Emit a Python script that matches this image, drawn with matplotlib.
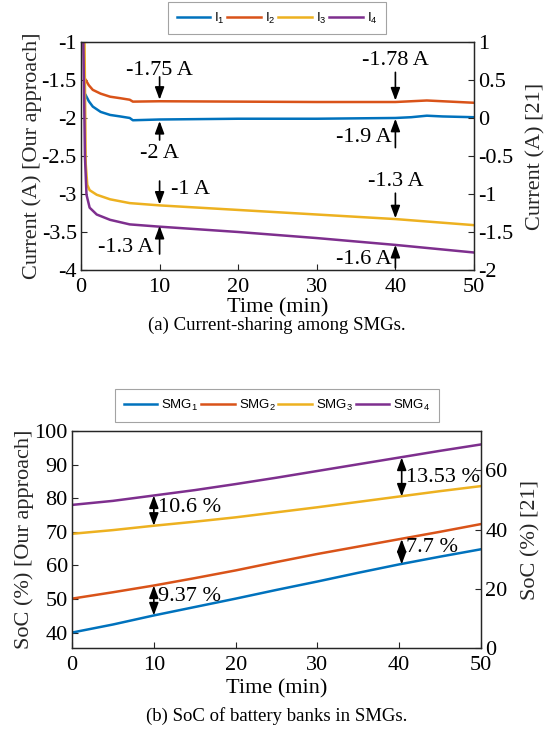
import numpy as np
import matplotlib
matplotlib.use("Agg")
import matplotlib.pyplot as plt

plt.rcParams['font.family'] = ['Liberation Serif', 'DejaVu Serif']
plt.rcParams['axes.unicode_minus'] = False
plt.rcParams['mathtext.fontset'] = 'custom'
plt.rcParams['mathtext.rm'] = 'Liberation Sans'

# colours (MATLAB default order)
C1, C2, C3, C4 = '#0072BD', '#D95319', '#EDB120', '#7E2F8E'
GRAY = '#262626'

# ---- (a) current sharing ----
t_i12 = [0.6, 1, 1.5, 2.5, 3.7, 5, 6.2, 6.6, 10, 20, 30, 40, 42, 44, 46, 50]
i1 = [-1.70, -1.78, -1.85, -1.92, -1.96, -1.98, -2.00, -2.03, -2.02, -2.01, -2.01, -2.00, -1.99, -1.97, -1.98, -1.99]
i2 = [-1.50, -1.57, -1.63, -1.68, -1.72, -1.74, -1.76, -1.785, -1.78, -1.785, -1.79, -1.79, -1.78, -1.77, -1.78, -1.80]
t_i3 = [0.45, 0.6, 0.8, 1.1, 2, 3.7, 6.2, 10, 20, 30, 40, 50]
i3 = [-1.0, -2.6, -2.88, -2.95, -3.01, -3.07, -3.12, -3.15, -3.21, -3.27, -3.33, -3.41]
t_i4 = [0.3, 0.5, 0.7, 1.1, 2, 3.7, 6.2, 10, 20, 30, 40, 50]
i4 = [-1.0, -2.5, -3.01, -3.18, -3.27, -3.34, -3.40, -3.43, -3.50, -3.58, -3.67, -3.77]
cur_labels = ['I$_\\mathregular{1}$', 'I$_\\mathregular{2}$', 'I$_\\mathregular{3}$', 'I$_\\mathregular{4}$']
left_ticks_a = [-4, -3.5, -3, -2.5, -2, -1.5, -1]
right_ticks_a = [-2, -1.5, -1, -0.5, 0, 0.5, 1]

# ---- (b) state of charge ----
t_soc = [0, 5, 10, 15, 20, 25, 30, 35, 40, 45, 50]
soc1 = [40, 42.4, 45.1, 47.6, 50.1, 52.7, 55.2, 57.8, 60.3, 62.6, 64.8]
soc2 = [50.1, 52, 54, 56.2, 58.5, 61, 63.4, 65.6, 67.8, 70, 72.3]
soc3 = [69.4, 70.5, 71.8, 73, 74.3, 75.8, 77.3, 78.9, 80.5, 82.1, 83.6]
soc4 = [78, 79.2, 80.8, 82.4, 84.2, 86.1, 88.1, 90.1, 92.1, 94.1, 96.0]
soc_labels = ['SMG$_\\mathregular{1}$', 'SMG$_\\mathregular{2}$', 'SMG$_\\mathregular{3}$', 'SMG$_\\mathregular{4}$']
left_ticks_b = [40, 50, 60, 70, 80, 90, 100]
right_ticks_b = [0, 20, 40, 60]
x_ticks = [0, 10, 20, 30, 40, 50]

FS = 16


def fmt(v):
    return f"{v:g}"


def style(ax):
    for s in ax.spines.values():
        s.set_color(GRAY)
        s.set_linewidth(0.9)
    ax.tick_params(direction='in', length=4, width=0.8, colors=GRAY,
                   labelsize=FS, labelcolor='black', pad=3)
    ax.tick_params(axis='x', pad=6)


def legend(handles, yc):
    leg = fig.legend(handles=handles, loc='center', bbox_to_anchor=(0.5, yc),
                     ncol=4, frameon=True, fancybox=False, edgecolor='#8c8c8c',
                     prop={'family': 'Liberation Sans', 'size': 9.5},
                     handlelength=2.55, handletextpad=0.3, columnspacing=0.2,
                     borderpad=0.65)
    leg.get_frame().set_linewidth(0.8)
    return leg


fig = plt.figure(figsize=(5.54, 7.44), dpi=100)

# ================= panel (a) =================
ax1 = fig.add_axes([0.1462, 0.6371, 0.7094, 0.3065])
lines = []
for t, y, c, lab in zip([t_i12, t_i12, t_i3, t_i4], [i1, i2, i3, i4],
                        [C1, C2, C3, C4], cur_labels):
    ln, = ax1.plot(t, y, color=c, lw=1.8, label=lab)
    lines.append(ln)
ax1.set_xlim(0, 50)
ax1.set_ylim(-4, -1)
ax1.set_xticks(x_ticks)
ax1.set_yticks(left_ticks_a)
ax1.set_yticklabels([fmt(v) for v in left_ticks_a])
ax1.set_xlabel('Time (min)', fontsize=FS, labelpad=1)
ax1.set_ylabel('Current (A) [Our approach]', fontsize=FS, color=GRAY, labelpad=0)
style(ax1)

ax1r = ax1.twinx()
ax1r.set_ylim(-2, 1)
ax1r.set_yticks(right_ticks_a)
ax1r.set_yticklabels([fmt(v) for v in right_ticks_a])
ax1r.set_ylabel('Current (A) [21]', fontsize=FS, color=GRAY, labelpad=9)
style(ax1r)

arr = dict(arrowstyle='-|>,head_length=0.75,head_width=0.28', color='black',
           lw=1.2, shrinkA=0, shrinkB=0, mutation_scale=10)
# (text, text x, text y, ha, arrow tail y, arrow head y, arrow x)
ann_a = [
    ('-1.75 A', 10, -1.38, 'center', -1.46, -1.76, 10),
    ('-2 A', 10, -2.47, 'center', -2.29, -2.04, 10),
    ('-1.78 A', 40, -1.24, 'center', -1.40, -1.77, 40),
    ('-1.9 A', 39.5, -2.26, 'right', -2.39, -2.01, 40),
    ('-1 A', 11.5, -2.94, 'left', -2.83, -3.14, 10),
    ('-1.3 A', 40, -2.84, 'center', -2.99, -3.32, 40),
    ('-1.3 A', 9.3, -3.70, 'right', -3.79, -3.42, 10),
    ('-1.6 A', 39.5, -3.86, 'right', -3.97, -3.67, 40),
]
for txt, tx, ty, ha, y0, y1, xa in ann_a:
    ax1.text(tx, ty, txt, fontsize=FS, ha=ha, va='center')
    ax1.annotate('', xy=(xa, y1), xytext=(xa, y0), arrowprops=arr)

legend(lines, 0.9758)

fig.text(0.5, 1 - 325 / 744, '(a) Current-sharing among SMGs.', ha='center',
         va='center', fontsize=13.5)

# ================= panel (b) =================
ax2 = fig.add_axes([0.13, 0.129, 0.7383, 0.2917])
lines2 = []
for y, c, lab in zip([soc1, soc2, soc3, soc4], [C1, C2, C3, C4], soc_labels):
    ln, = ax2.plot(t_soc, y, color=c, lw=1.8, label=lab)
    lines2.append(ln)
ax2.set_xlim(0, 50)
ax2.set_ylim(35.4, 100)
ax2.set_xticks(x_ticks)
ax2.set_yticks(left_ticks_b)
ax2.set_xlabel('Time (min)', fontsize=FS, labelpad=3)
ax2.set_ylabel('SoC (%) [Our approach]', fontsize=FS, color=GRAY, labelpad=0)
style(ax2)

ax2r = ax2.twinx()
ax2r.set_ylim(0, 73.3)
ax2r.set_yticks(right_ticks_b)
ax2r.set_ylabel('SoC (%) [21]', fontsize=FS, color=GRAY, labelpad=10)
style(ax2r)

darr = dict(arrowstyle='<|-|>,head_length=0.75,head_width=0.28', color='black',
            lw=1.2, shrinkA=0, shrinkB=0, mutation_scale=10)
# (text, arrow x, low y, high y, text y)
ann_b = [
    ('10.6 %', 10, 71.8, 80.8, 77.3),
    ('9.37 %', 10, 45.1, 54.0, 50.6),
    ('13.53 %', 40.3, 80.5, 92.1, 86.2),
    ('7.7 %', 40.3, 60.3, 67.8, 65.4),
]
for txt, xa, ylo, yhi, ty in ann_b:
    ax2.annotate('', xy=(xa, yhi), xytext=(xa, ylo), arrowprops=darr)
    ax2.text(xa + 0.5, ty, txt, fontsize=FS, ha='left', va='center')

legend(lines2, 1 - 405.5 / 744)

fig.text(0.5, 1 - 716 / 744, '(b) SoC of battery banks in SMGs.', ha='center',
         va='center', fontsize=13.5)

fig.savefig('out.png', dpi=100)
